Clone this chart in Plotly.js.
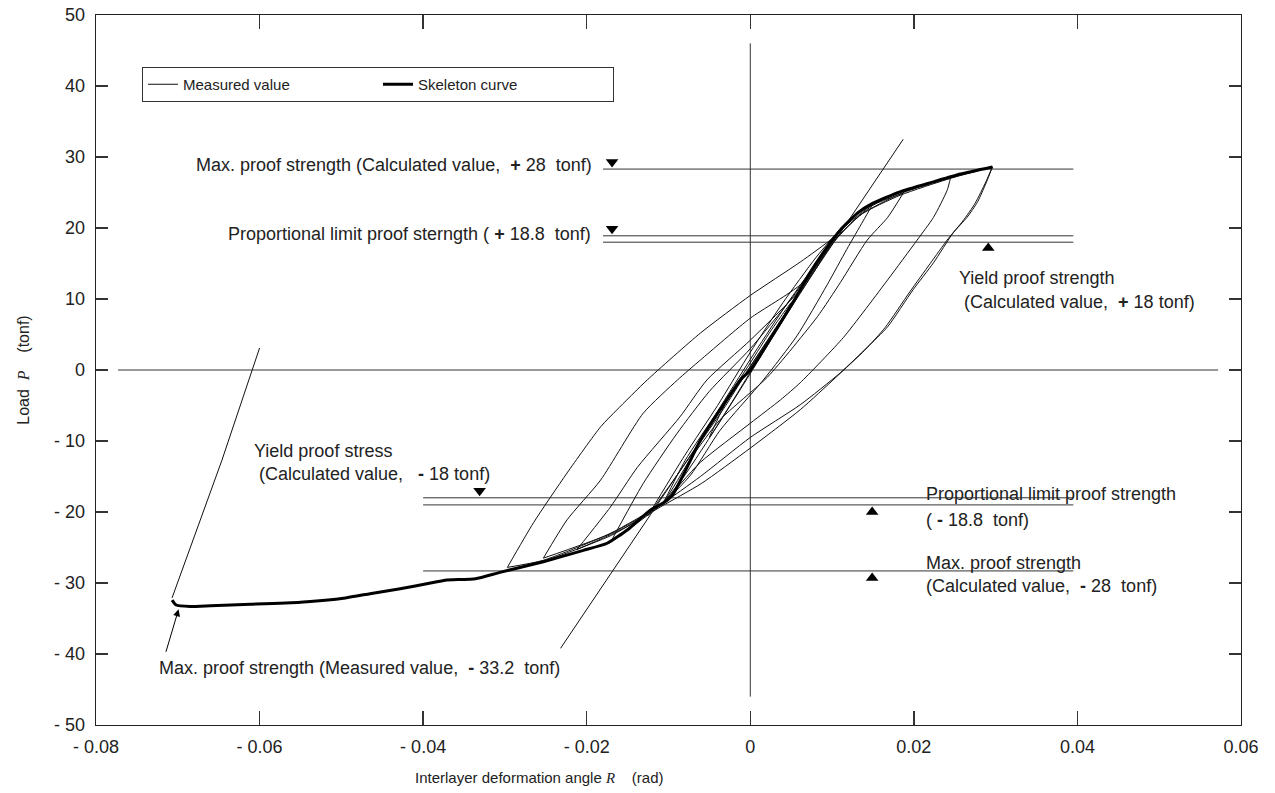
<!DOCTYPE html>
<html><head><meta charset="utf-8">
<script src="https://cdn.plot.ly/plotly-3.0.1.min.js"></script>
<style>body{margin:0;background:#fff}#chart{width:1275px;height:793px}</style>
</head><body><div id="chart"></div>
<script>
// ---- tick labels ----
const xTickVals = [-0.08, -0.06, -0.04, -0.02, 0, 0.02, 0.04, 0.06];
const xTickText = ['- 0.08', '- 0.06', '- 0.04', '- 0.02', '0', '0.02', '0.04', '0.06'];
const yTickVals = [-50, -40, -30, -20, -10, 0, 10, 20, 30, 40, 50];
const yTickText = ['- 50', '- 40', '- 30', '- 20', '- 10', '0', '10', '20', '30', '40', '50'];

// ---- skeleton curve ----
const skeletonX = [-0.0707,-0.0702,-0.0685,-0.066,-0.0611,-0.055,-0.0495,-0.0465,-0.0428,-0.0391,-0.0373,-0.0336,-0.0306,-0.0253,-0.0204,-0.0175,-0.015,-0.0122,-0.0106,-0.0095,-0.0079,-0.0061,-0.0037,-0.0012,0,0.0049,0.0073,0.0094,0.011,0.0131,0.015,0.0183,0.0224,0.0257,0.0296];
const skeletonY = [-32.4,-33.1,-33.3,-33.2,-33.0,-32.7,-32.1,-31.5,-30.8,-30.0,-29.6,-29.4,-28.5,-27.0,-25.4,-24.4,-22.5,-19.7,-18.7,-17.6,-14.1,-9.9,-5.6,-1.4,0,8.9,13.7,17.3,19.7,22.1,23.5,25.1,26.5,27.6,28.6];

// ---- measured hysteresis branches ----
const unloadF1X = [0.0296,0.029,0.0278,0.0265,0.0248,0.0224,0.0199,0.0168,0.0143,0.011,0.0061,0,-0.0061,-0.011,-0.0171,-0.0253,-0.0297];
const unloadF1Y = [28.6,26.8,23.7,21.5,19.3,15.1,11.3,6.1,3.2,-0.4,-4.9,-9.5,-15,-19,-23,-26.8,-27.8];
const reloadF1X = [-0.0297,-0.0265,-0.0224,-0.0183,-0.0163,-0.0126,-0.0061,0,0.0061,0.0101,0.0134,0.0183,0.0245,0.0296];
const reloadF1Y = [-27.8,-21.5,-14.5,-8,-5.6,-1.4,5.2,10.5,15.2,18.6,22.3,25,27.2,28.6];
const unloadF2X = [0.0296,0.0288,0.0275,0.026,0.0242,0.022,0.0195,0.0165,0.014,0.0105,0.0061,0,-0.006,-0.011,-0.017,-0.0253];
const unloadF2Y = [28.6,26.5,23.5,21,18.5,15,11,6,2.8,-1,-5.6,-11,-16,-19.3,-23.3,-27];
const reloadE1X = [-0.0253,-0.0224,-0.0183,-0.0131,-0.0089,-0.0061,0,0.0061,0.0104,0.0134,0.0183,0.0245,0.0296];
const reloadE1Y = [-26.5,-21.1,-15.5,-6.1,-1.4,1.4,7.3,12,18.3,21.8,24.6,27,28.6];
const unloadEX = [0.0245,0.0241,0.0224,0.0204,0.0168,0.0114,0.0061,0.0037,0,-0.0061,-0.011,-0.017,-0.0253];
const unloadEY = [27.2,25.4,21.5,18.3,12.7,4.6,-1.8,-4.2,-7.5,-13,-19,-23,-26.5];
const reloadDX = [-0.0212,-0.0171,-0.0138,-0.0086,-0.0053,0,0.0061,0.0104,0.0134,0.0183,0.0245];
const reloadDY = [-25.3,-19.3,-13.7,-6.6,-1.4,4.2,11.3,18.3,21.8,24.8,27.2];
const unloadDX = [0.0187,0.0168,0.0143,0.011,0.0082,0.0021,-0.0037,-0.0073,-0.0106,-0.015,-0.0212];
const unloadDY = [24.9,21.5,18.3,12.3,7.5,-1,-7,-12.5,-18.5,-22,-25.3];
const reloadCX = [-0.0171,-0.0131,-0.009,-0.005,0,0.005,0.0104,0.015,0.0187];
const reloadCY = [-24.3,-16,-9,-3,3,10,18.5,23.2,24.9];
const unloadCX = [0.015,0.0138,0.0118,0.0094,0.0057,0.0016,-0.0037,-0.0073,-0.0106,-0.0171];
const unloadCY = [23.4,21.0,17.0,12.0,4.8,-1.4,-8.5,-14.8,-18.7,-24.3];
const reloadBX = [-0.0125,-0.01,-0.006,-0.003,0,0.004,0.008,0.011,0.015];
const reloadBY = [-20.5,-16.5,-10,-5,0.5,7.5,14.5,19.6,23.4];
const unloadBX = [0.0108,0.008,0.004,0,-0.004,-0.008,-0.0125];
const unloadBY = [19.6,15.8,9.5,2.5,-5,-12,-20.5];
const reloadAX = [-0.0106,-0.008,-0.004,0,0.004,0.008,0.0108];
const reloadAY = [-18.7,-14.8,-7.8,-0.5,7,14.2,19.6];
const unloadAX = [0.0108,0.008,0.004,0,-0.004,-0.008,-0.0106];
const unloadAY = [19.6,15,8.5,1.5,-5.8,-12.8,-18.7];
const smallLoopX = [-0.005,-0.0025,0,0.0025,0.005,0.0025,0,-0.0025,-0.005];
const smallLoopY = [-9.5,-5,-0.3,4.5,9.5,5.5,1,-3.5,-9.5];
const finalUnloadX = [-0.0707,-0.0646,-0.06];
const finalUnloadY = [-32.1,-12.7,3.1];
const stiffLineX = [-0.0232, 0.0187];
const stiffLineY = [-39.2, 32.5];

// ---- reference levels ----
const posLevels = [28.3, 18.9, 18.0];
const posLevelSpan = [-0.0180, 0.0395];
const negLevels = [-18.0, -19.0, -28.3];
const negLevelSpan = [-0.040, 0.0395];
const zeroXSpan = [-0.0773, 0.0572];
const zeroYSpan = [-46, 46];

// ---- triangle markers ----
const triDownX = [-0.0169, -0.0169, -0.0331];
const triDownY = [29.3, 19.9, -17.0];
const triUpX = [0.0291, 0.0149, 0.0149];
const triUpY = [17.2, -20.0, -29.3];

// ---- build measured trace ----
const branchesX = [unloadF1X, reloadF1X, unloadF2X, reloadE1X, unloadEX, reloadDX, unloadDX, reloadCX, unloadCX, reloadBX, unloadBX, reloadAX, unloadAX, smallLoopX];
const branchesY = [unloadF1Y, reloadF1Y, unloadF2Y, reloadE1Y, unloadEY, reloadDY, unloadDY, reloadCY, unloadCY, reloadBY, unloadBY, reloadAY, unloadAY, smallLoopY];
let mX = [], mY = [];
branchesX.forEach((bx, i) => { mX = mX.concat(bx, [null]); mY = mY.concat(branchesY[i], [null]); });

const thin = {color: '#111', width: 1};
const thinSpline = {color: '#111', width: 1, shape: 'spline', smoothing: 0.6};
const refLine = {color: '#333', width: 1};

const traces = [];
function levelTrace(levels, span) {
  let x = [], y = [];
  levels.forEach(v => { x.push(span[0], span[1], null); y.push(v, v, null); });
  return {x, y, mode: 'lines', line: refLine, showlegend: false, hoverinfo: 'skip'};
}
traces.push(levelTrace(posLevels, posLevelSpan));
traces.push(levelTrace(negLevels, negLevelSpan));
traces.push({x: zeroXSpan, y: [0, 0], mode: 'lines', line: refLine, showlegend: false});
traces.push({x: [0, 0], y: zeroYSpan, mode: 'lines', line: refLine, showlegend: false});
traces.push({x: stiffLineX, y: stiffLineY, mode: 'lines', line: thin, showlegend: false});
traces.push({x: finalUnloadX, y: finalUnloadY, mode: 'lines', line: thin, showlegend: false});
traces.push({x: mX, y: mY, mode: 'lines', line: thinSpline, name: 'Measured value', connectgaps: false});
traces.push({x: skeletonX, y: skeletonY, mode: 'lines', line: {color: '#000', width: 3, shape: 'spline', smoothing: 0.5}, name: 'Skeleton curve'});
traces.push({x: triDownX, y: triDownY, mode: 'markers', marker: {symbol: 'triangle-down', size: 11, color: '#000'}, showlegend: false});
traces.push({x: triUpX, y: triUpY, mode: 'markers', marker: {symbol: 'triangle-up', size: 11, color: '#000'}, showlegend: false});

const NB = '\u00a0';
const FAM = 'Liberation Sans, Arial, sans-serif';
const F = {family: FAM, size: 18, color: '#222'};
const FS = {family: FAM, size: 15, color: '#222'};
function txt(x, y, t, anchor) {
  return {x, y, xref: 'x', yref: 'y', text: t, showarrow: false, xanchor: anchor, yanchor: 'middle', font: F};
}
const annotations = [
  txt(-0.0191, 28.9, 'Max. proof strength (Calculated value,' + NB + NB + '<b>+</b>' + NB + '28' + NB + NB + 'tonf)', 'right'),
  txt(-0.0192, 19.2, 'Proportional limit proof sterngth (' + NB + '<b>+</b>' + NB + '18.8' + NB + NB + 'tonf)', 'right'),
  txt(0.0253, 13.0, 'Yield proof strength', 'left'),
  txt(0.0259, 9.6, '(Calculated value,' + NB + NB + '<b>+</b>' + NB + '18 tonf)', 'left'),
  txt(-0.0609, -11.4, 'Yield proof stress', 'left'),
  txt(-0.0603, -14.6, '(Calculated value,' + NB + NB + NB + '<b>-</b>' + NB + '18 tonf)', 'left'),
  txt(0.0212, -17.5, 'Proportional limit proof strength', 'left'),
  txt(0.0212, -21.1, '(' + NB + '<b>-</b>' + NB + '18.8' + NB + NB + 'tonf)', 'left'),
  txt(0.0212, -27.2, 'Max. proof strength', 'left'),
  txt(0.0212, -30.4, '(Calculated value,' + NB + NB + '<b>-</b>' + NB + '28' + NB + NB + 'tonf)', 'left'),
  txt(-0.0725, -42.0, 'Max. proof strength (Measured value,' + NB + NB + '<b>-</b>' + NB + '33.2' + NB + NB + 'tonf)', 'left'),
  {x: -0.0699, y: -33.7, ax: -0.0715, ay: -39.9, xref: 'x', yref: 'y', axref: 'x', ayref: 'y',
   text: '', showarrow: true, arrowhead: 2, arrowsize: 1.4, arrowwidth: 1, arrowcolor: '#000'},
  {x: (539 - 96) / 1145, y: -(778 - 725) / 710, xref: 'paper', yref: 'paper', showarrow: false,
   xanchor: 'center', yanchor: 'middle', font: FS,
   text: 'Interlayer deformation angle <span style="font-family:Liberation Serif"><i>R</i></span>' + NB + NB + NB + NB + '(rad)'}
];

const axisCommon = {showgrid: false, zeroline: false, showline: true, linecolor: '#222', linewidth: 1.3,
  mirror: 'ticks', ticks: 'inside', ticklen: 12, tickcolor: '#333', tickwidth: 1.3,
  tickfont: {family: FAM, size: 18, color: '#222'}};

const layout = {
  width: 1275, height: 793,
  margin: {l: 96, r: 34, t: 15, b: 68},
  paper_bgcolor: '#fff', plot_bgcolor: '#fff',
  font: F,
  xaxis: Object.assign({}, axisCommon, {range: [-0.08, 0.06], tickmode: 'array', tickvals: xTickVals, ticktext: xTickText, ticklen: 14, ticklabelstandoff: 5}),
  yaxis: Object.assign({}, axisCommon, {range: [-50, 50], tickmode: 'array', tickvals: yTickVals, ticktext: yTickText, ticklabelstandoff: 6,
    title: {text: 'Load' + NB + NB + '<span style="font-family:Liberation Serif"><i>P</i></span>' + NB + NB + NB + NB + '(tonf)', font: {family: FAM, size: 16, color: '#222'}, standoff: 20}}),
  showlegend: true,
  legend: {orientation: 'h', x: (142 - 96) / 1145, y: (725 - 67) / 710, xanchor: 'left', yanchor: 'top',
    bordercolor: '#333', borderwidth: 1, bgcolor: '#fff', font: {family: FAM, size: 15, color: '#222'},
    entrywidth: 190, entrywidthmode: 'pixels'},
  annotations: annotations
};

Plotly.newPlot('chart', traces, layout, {displayModeBar: false, staticPlot: true});
</script></body></html>
